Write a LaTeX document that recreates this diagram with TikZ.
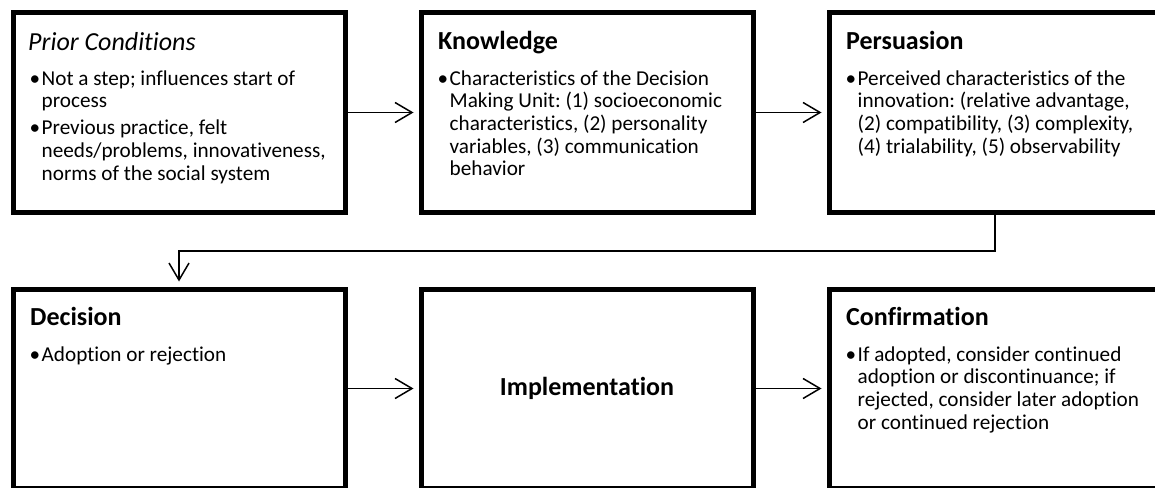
\documentclass[tikz,border=0pt]{standalone}
\usepackage{fontspec}
\setmainfont{Carlito}[Ligatures=NoCommon]
\usetikzlibrary{arrows.meta,positioning}
\newcommand{\bul}[1]{\setlength{\parskip}{4.5pt}\frenchspacing\spaceskip=0pt\xspaceskip=0pt\hangindent=12pt\hangafter=1\makebox[12pt][l]{\textbullet}#1\par}
\tikzset{
  box/.style={draw,line width=5pt,minimum width=332pt,minimum height=199pt,inner sep=0pt,outer sep=0pt},
  ttl/.style={anchor=base west,inner sep=0pt,font=\fontsize{26}{29}\selectfont\bfseries},
  pts/.style={anchor=base west,inner sep=0pt,text width=318pt,align=left,font=\fontsize{21.2}{22.7}\selectfont},
  arr/.style={line width=1.5pt,-{Straight Barb[length=17pt,width=20pt]},shorten >=7.5pt},
}
\begin{document}
\begin{tikzpicture}[x=1pt,y=1pt]
  \useasboundingbox (0,0) rectangle (1155,-487);
  \clip (0,0) rectangle (1155,-487);
  % top row
  \node[box] (prior) at (179,-112.5) {};
  \node[box,right=76pt of prior] (knowledge) {};
  \node[box,right=76pt of knowledge] (persuasion) {};
  % bottom row
  \node[box,below=77pt of prior] (decision) {};
  \node[box,right=76pt of decision,font=\fontsize{26}{29}\selectfont\bfseries] (implementation) {Implementation};
  \node[box,right=76pt of implementation] (confirmation) {};

  \node[ttl,font=\fontsize{26}{29}\selectfont\itshape] (prior-t) at ([shift={(15pt,-37pt)}]prior.north west) {Prior Conditions};
  \node[pts] (prior-b) at ([shift={(16.5pt,-72pt)}]prior.north west) {%
    \bul{Not a step; influences start of\newline process}%
    \bul{Previous practice, felt\newline needs/problems, innovativeness,\newline norms of the social system}};

  \node[ttl] (knowledge-t) at ([shift={(17pt,-36.5pt)}]knowledge.north west) {Knowledge};
  \node[pts] (knowledge-b) at ([shift={(16.5pt,-72pt)}]knowledge.north west) {%
    \bul{Characteristics of the Decision\newline Making Unit: (1) socioeconomic\newline characteristics, (2) personality\newline variables, (3) communication\newline behavior}};

  \node[ttl] (persuasion-t) at ([shift={(17pt,-36.5pt)}]persuasion.north west) {Persuasion};
  \node[pts] (persuasion-b) at ([shift={(16.5pt,-72pt)}]persuasion.north west) {%
    \bul{Perceived characteristics of the\newline innovation: (relative advantage,\newline (2) compatibility, (3) complexity,\newline (4) trialability, (5) observability}};

  \node[ttl] (decision-t) at ([shift={(17pt,-36.5pt)}]decision.north west) {Decision};
  \node[pts] (decision-b) at ([shift={(16.5pt,-72pt)}]decision.north west) {%
    \bul{Adoption or rejection}};

  \node[ttl] (confirmation-t) at ([shift={(17pt,-36.5pt)}]confirmation.north west) {Confirmation};
  \node[pts] (confirmation-b) at ([shift={(16.5pt,-72pt)}]confirmation.north west) {%
    \bul{If adopted, consider continued\newline adoption or discontinuance; if\newline rejected, consider later adoption\newline or continued rejection}};

  % connectors
  \draw[arr] (prior) -- (knowledge);
  \draw[arr] (knowledge) -- (persuasion);
  \draw[arr] (persuasion.south) -- ++(0,-39) -| (decision.north);
  \draw[arr] (decision) -- (implementation);
  \draw[arr] (implementation) -- (confirmation);
\end{tikzpicture}
\end{document}
